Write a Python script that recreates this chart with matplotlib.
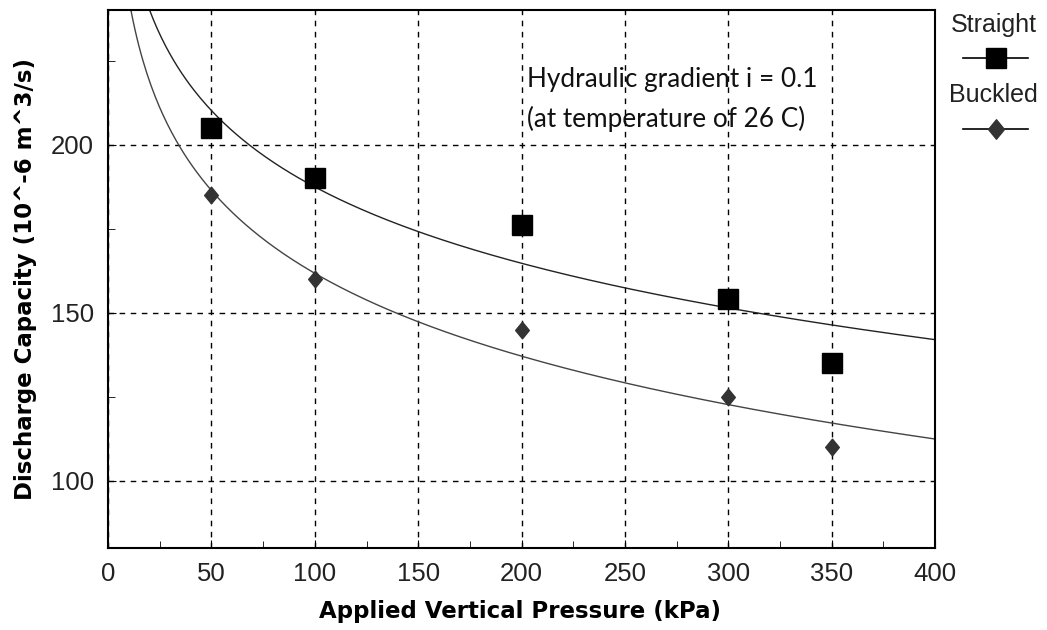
import numpy as np
import matplotlib.pyplot as plt
from matplotlib.lines import Line2D
from matplotlib.path import Path
from matplotlib.ticker import MultipleLocator

plt.rcParams["font.family"] = ["Liberation Sans", "DejaVu Sans"]

# --- данные ---
pressure = [50, 100, 200, 300, 350]
straight = [205, 190, 176, 154, 135]
buckled = [185, 160, 145, 125, 110]

# логарифмическая аппроксимация y = a + b*ln(x)
fit_s = np.polyfit(np.log(pressure), straight, 1)
fit_b = np.polyfit(np.log(pressure), buckled, 1)
xs = np.linspace(5, 400, 400)

# ромб чуть вытянутый по вертикали
diamond = Path([(0, 1), (0.82, 0), (0, -1), (-0.82, 0), (0, 1)],
               [Path.MOVETO, Path.LINETO, Path.LINETO, Path.LINETO, Path.CLOSEPOLY])

fig = plt.figure(figsize=(10.47, 6.3), dpi=100)
ax = fig.add_axes([0.1032, 0.130, 0.790, 0.854])

ax.plot(xs, np.polyval(fit_s, np.log(xs)), color="#222222", lw=1.0)
ax.plot(xs, np.polyval(fit_b, np.log(xs)), color="#444444", lw=1.0)
ax.plot(pressure, straight, marker="s", color="black", ms=14, ls="none")
ax.plot(pressure, buckled, marker=diamond, color="#333333", ms=12, ls="none")

ax.set_xlim(0, 400)
ax.set_ylim(80, 240)
ax.xaxis.set_major_locator(MultipleLocator(50))
ax.xaxis.set_minor_locator(MultipleLocator(25))
ax.set_yticks([100, 150, 200])
ax.yaxis.set_minor_locator(MultipleLocator(25))
ax.tick_params(which="both", direction="in", color="black")
ax.tick_params(which="major", length=6, labelsize=18.5, pad=10, labelcolor="#222222")
ax.tick_params(which="minor", length=5)
ax.grid(True, which="major", color="black", ls=(0, (4, 4)), lw=1.0)
for s in ax.spines.values():
    s.set_linewidth(1.5)

lab = dict(fontsize=16.5, fontweight="bold", family="DejaVu Sans")
ax.set_xlabel("Applied Vertical Pressure (kPa)", **lab)
ax.set_ylabel("Discharge Capacity (10^-6 m^3/s)", **lab)
ax.xaxis.set_label_coords(0.498, -0.097)
ax.yaxis.set_label_coords(-0.086, 0.5)

ax.text(202.7, 217.0, "Hydraulic gradient i = 0.1", fontsize=18.8, family="Lato",
        va="baseline", color="#111111")
ax.text(202.7, 205.1, "(at temperature of 26 C)", fontsize=18.8, family="Lato",
        va="baseline", color="#111111")

# --- легенда справа ---
fig.text(0.949, 0.949, "Straight", fontsize=18, ha="center", va="baseline", color="#222222")
fig.add_artist(Line2D([0.920, 0.982], [0.908, 0.908], color="black", lw=1.2))
fig.add_artist(Line2D([0.951], [0.908], color="black", marker="s", ms=14, ls="none"))
fig.text(0.949, 0.838, "Buckled", fontsize=18, ha="center", va="baseline", color="#222222")
fig.add_artist(Line2D([0.920, 0.982], [0.795, 0.795], color="black", lw=1.2))
fig.add_artist(Line2D([0.951], [0.795], color="#333333", marker=diamond, ms=14, ls="none"))

fig.savefig("out.png", dpi=100)
